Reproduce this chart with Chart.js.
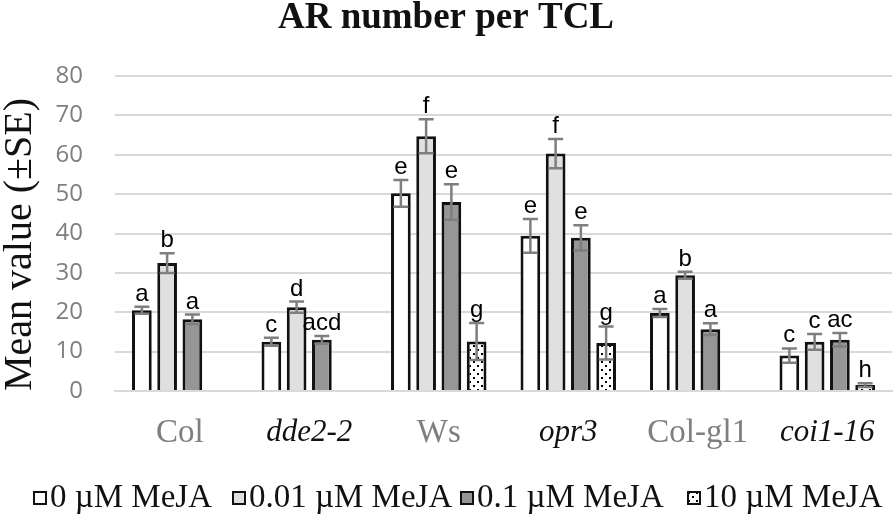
<!DOCTYPE html>
<html>
<head>
<meta charset="utf-8">
<script src="https://cdn.jsdelivr.net/npm/chart.js@4"></script>
<style>
html,body{margin:0;padding:0;background:#fff;}
#wrap{width:894px;height:515px;position:relative;overflow:hidden;}
#legend{position:absolute;left:0;top:480px;width:894px;height:34px;}
.li{position:absolute;top:0;height:34px;white-space:nowrap;}
.li canvas{position:absolute;left:0;top:11px;}
.li span{position:absolute;left:17px;top:0;font-family:"Liberation Serif","Times New Roman",serif;font-size:33px;line-height:33px;color:#111;}
</style>
</head>
<body>
<div id="wrap"><canvas id="c" width="894" height="515"></canvas><div id="legend"></div></div>
<script>
const categories = ['Col', 'dde2-2', 'Ws', 'opr3', 'Col-gl1', 'coi1-16'];
const seriesNames = ['0 µM MeJA', '0.01 µM MeJA', '0.1 µM MeJA', '10 µM MeJA'];
const mean0   = [20.5, 12.5, 50.2, 39.4, 19.8, 9.0];
const se0     = [0.9, 1.0, 3.4, 4.3, 1.0, 1.8];
const mean001 = [32.5, 21.3, 64.7, 60.3, 29.4, 12.5];
const se001   = [2.5, 1.4, 4.3, 3.7, 0.9, 2.0];
const mean01  = [18.2, 13.0, 48.0, 38.9, 15.7, 13.0];
const se01    = [1.2, 1.0, 4.5, 3.2, 1.5, 1.7];
const mean10  = [null, null, 12.6, 12.2, null, 1.5];
const se10    = [null, null, 4.7, 4.2, null, 0.5];
const letters0   = ['a', 'c', 'e', 'e', 'a', 'c'];
const letters001 = ['b', 'd', 'f', 'f', 'b', 'c'];
const letters01  = ['a', 'acd', 'e', 'e', 'a', 'ac'];
const letters10  = [null, null, 'g', 'g', null, 'h'];
const yTicks = [0, 10, 20, 30, 40, 50, 60, 70, 80];
const italicCats = ['dde2-2', 'opr3', 'coi1-16'];
const legendLefts = [33, 232, 460, 687];

// dotted pattern
function makeDots(ctxRef) {
  const p = document.createElement('canvas');
  p.width = 8; p.height = 8;
  const g = p.getContext('2d');
  g.fillStyle = '#fff'; g.fillRect(0, 0, 8, 8);
  g.fillStyle = '#000';
  g.fillRect(1, 1, 2, 2);
  g.fillRect(5, 5, 2, 2);
  return (ctxRef || g).createPattern(p, 'repeat');
}
const dots = makeDots();

const seList = [se0, se001, se01, se10];
const letterList = [letters0, letters001, letters01, letters10];

const errPlugin = {
  id: 'errbars',
  afterDatasetsDraw(chart) {
    const ctx = chart.ctx;
    const ys = chart.scales.y;
    ctx.save();
    chart.data.datasets.forEach((ds, i) => {
      const meta = chart.getDatasetMeta(i);
      meta.data.forEach((bar, j) => {
        const v = ds.data[j];
        if (v === null || v === undefined) return;
        const se = seList[i][j];
        const yT = ys.getPixelForValue(v + se);
        const yB = ys.getPixelForValue(v - se);
        const x = bar.x;
        ctx.strokeStyle = '#7f7f7f';
        ctx.lineWidth = 2.5;
        ctx.beginPath();
        ctx.moveTo(x, yT); ctx.lineTo(x, yB);
        ctx.moveTo(x - 7.5, yT); ctx.lineTo(x + 7.5, yT);
        ctx.moveTo(x - 7.5, yB); ctx.lineTo(x + 7.5, yB);
        ctx.stroke();
        const L = letterList[i][j];
        if (L) {
          ctx.fillStyle = '#000';
          ctx.font = '24px "Liberation Sans", Arial, sans-serif';
          ctx.textAlign = 'center';
          ctx.textBaseline = 'alphabetic';
          ctx.fillText(L, x, yT - 6);
        }
      });
    });
    ctx.restore();
  }
};

const fills = ['#ffffff', '#e0e0e0', '#969696', dots];
const means = [mean0, mean001, mean01, mean10];

const htmlLegend = {
  id: 'htmlLegend',
  afterUpdate(chart) {
    const box = document.getElementById('legend');
    box.innerHTML = '';
    chart.data.datasets.forEach((ds, i) => {
      const item = document.createElement('div');
      item.className = 'li';
      item.style.left = legendLefts[i] + 'px';
      const cv = document.createElement('canvas');
      cv.width = 14; cv.height = 14;
      const g = cv.getContext('2d');
      g.fillStyle = ds.backgroundColor;
      g.fillRect(0, 0, 14, 14);
      g.strokeStyle = '#111';
      g.lineWidth = 2;
      g.strokeRect(1, 1, 12, 12);
      const sp = document.createElement('span');
      sp.textContent = ds.label;
      item.appendChild(cv);
      item.appendChild(sp);
      box.appendChild(item);
    });
  }
};

new Chart(document.getElementById('c'), {
  type: 'bar',
  data: {
    labels: categories,
    datasets: seriesNames.map((n, i) => ({
      label: n,
      data: means[i],
      backgroundColor: fills[i],
      borderColor: '#111',
      borderWidth: 3,
      categoryPercentage: 0.78,
      barPercentage: 0.78
    }))
  },
  options: {
    responsive: false,
    animation: false,
    layout: { padding: { left: 0, right: 2, top: 0, bottom: 47 } },
    plugins: {
      title: {
        display: true,
        text: 'AR number per TCL',
        color: '#111',
        font: { family: '"Liberation Serif", "Times New Roman", serif', size: 37, weight: 'bold', lineHeight: 1 },
        padding: { top: 0, bottom: 39 }
      },
      legend: { display: false },
      tooltip: { enabled: false }
    },
    scales: {
      x: {
        grid: { display: false },
        border: { display: true, color: '#d9d9d9', width: 2 },
        ticks: {
          padding: 18,
          color: (c) => italicCats.includes(categories[c.index]) ? '#111' : '#7f7f7f',
          font: (c) => {
            const it = italicCats.includes(categories[c.index]);
            return {
              family: '"Liberation Serif", "Times New Roman", serif',
              size: it ? 31 : 33,
              style: it ? 'italic' : 'normal',
              lineHeight: 1
            };
          }
        }
      },
      y: {
        min: 0, max: 80,
        afterFit: (s) => { s.width = 115; },
        afterBuildTicks: (s) => { s.ticks = yTicks.map(v => ({ value: v })); },
        grid: { color: '#d9d9d9', lineWidth: 2, drawTicks: false },
        border: { display: false },
        ticks: {
          padding: 32,
          color: '#7f7f7f',
          font: { family: '"Open Sans", sans-serif', size: 24 }
        },
        title: {
          display: true,
          text: 'Mean value (±SE)',
          color: '#111',
          align: 'start',
          padding: { top: 0, bottom: 0 },
          font: { family: '"Liberation Serif", "Times New Roman", serif', size: 40, lineHeight: 1 }
        }
      }
    }
  },
  plugins: [errPlugin, htmlLegend]
});
</script>
</body>
</html>
